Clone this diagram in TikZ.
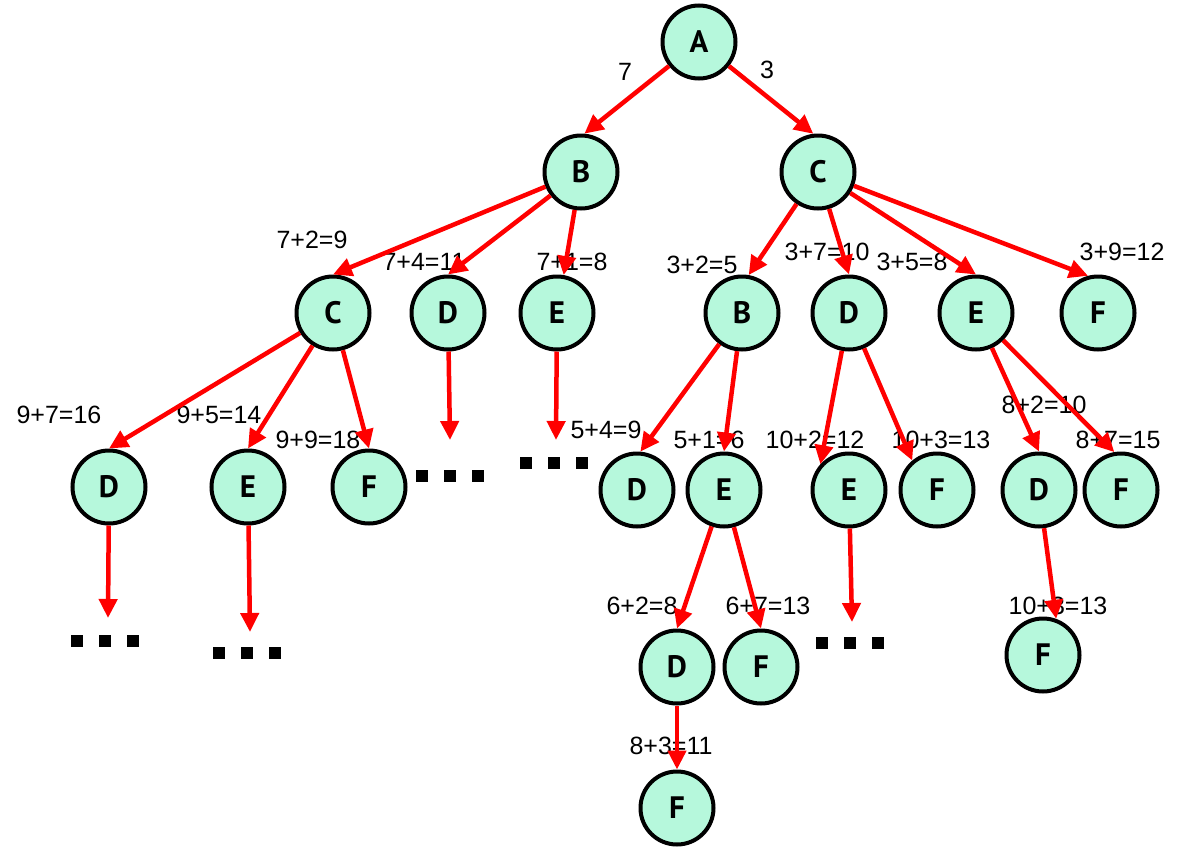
\documentclass[tikz,border=0pt]{standalone}
\usepackage{fontspec}
\setmainfont{Liberation Sans}
\newfontfamily\nodefont{PT Sans}
\usetikzlibrary{arrows.meta}
\definecolor{mint}{RGB}{182,248,220}
\definecolor{edgered}{RGB}{255,0,0}
\begin{document}
\begin{tikzpicture}[x=1pt,y=-1pt,
 st/.style={circle, draw=black, line width=4pt, fill=mint, minimum size=73pt, inner sep=0pt, font=\nodefont\bfseries\fontsize{31}{32}\selectfont},
 ed/.style={draw=edgered, line width=4.5pt, -{Triangle[length=19pt,width=18pt]}},
 lb/.style={font=\fontsize{25}{30}\selectfont, inner sep=0pt},
 sq/.style={fill=black}]
\useasboundingbox (0,0) rectangle (1195,849);
% nodes
\node[st] (A) at (699,42) {A};
\node[st] (B) at (581,172) {B};
\node[st] (C) at (818,172) {C};
\node[st] (C2) at (333,313) {C};
\node[st] (D2) at (448,313) {D};
\node[st] (E2) at (557,313) {E};
\node[st] (B3) at (742,313) {B};
\node[st] (D3) at (849,313) {D};
\node[st] (E3) at (976,313) {E};
\node[st] (F3) at (1098,313) {F};
\node[st] (D4a) at (109,487) {D};
\node[st] (E4a) at (248,487) {E};
\node[st] (F4a) at (369,487) {F};
\node[st] (D4b) at (637,490) {D};
\node[st] (E4b) at (724,490) {E};
\node[st] (E4c) at (849,490) {E};
\node[st] (F4c) at (937,490) {F};
\node[st] (D4d) at (1039,490) {D};
\node[st] (F4d) at (1121,490) {F};
\node[st] (D5) at (677,667) {D};
\node[st] (F5) at (761,667) {F};
\node[st] (F5d) at (1043,655) {F};
\node[st] (F6) at (677,808) {F};
% free ends
\coordinate (xD2) at (450,440);
\coordinate (xE2) at (556,440);
\coordinate (xD4a) at (108,618);
\coordinate (xE4a) at (250,632);
\coordinate (xE4c) at (852,622);
% labels
\node[lb] at (625,72) {7};
\node[lb] at (767,70) {3};
\node[lb] at (312,240) {7+2=9};
\node[lb] at (424,262) {7+4=11};
\node[lb] at (572,262) {7+1=8};
\node[lb] at (702,265) {3+2=5};
\node[lb] at (827,252) {3+7=10};
\node[lb] at (912,262) {3+5=8};
\node[lb] at (1122,252) {3+9=12};
\node[lb] at (59,415) {9+7=16};
\node[lb] at (219,415) {9+5=14};
\node[lb] at (318,440) {9+9=18};
\node[lb] at (606,430) {5+4=9};
\node[lb] at (709,440) {5+1=6};
\node[lb] at (815,440) {10+2=12};
\node[lb] at (941,440) {10+3=13};
\node[lb] at (1044,405) {8+2=10};
\node[lb] at (1118,440) {8+7=15};
\node[lb] at (642,606) {6+2=8};
\node[lb] at (768,606) {6+7=13};
\node[lb] at (1058,606) {10+3=13};
\node[lb] at (671,746) {8+3=11};
% edges
\draw[ed] (A) -- (B.85);
\draw[ed] (A) -- (C.97);
\draw[ed] (B) -- (C2.north);
\draw[ed] (B) -- (D2.north);
\draw[ed] (B) -- (E2.80);
\draw[ed] (C) -- (B3.80);
\draw[ed] (C) -- (D3.north);
\draw[ed] (C) -- (E3.north);
\draw[ed] (C) -- (F3.105);
\draw[ed] (C2) -- (D4a.north);
\draw[ed] (C2) -- (E4a.north);
\draw[ed] (C2) -- (F4a.north);
\draw[ed] (B3) -- (D4b.85);
\draw[ed] (B3) -- (E4b.north);
\draw[ed] (D3) -- (E4c.138);
\draw[ed] (D3) -- (F4c.130);
\draw[ed] (E3) -- (D4d.north);
\draw[ed] (E3) -- (F4d.100);
\draw[ed] (E4b) -- (D5.north);
\draw[ed] (E4b) -- (F5.north);
\draw[ed] (D4d) -- (F5d.70);
\draw[ed] (D5) -- (F6);
\draw[ed] (D2) -- (xD2);
\draw[ed] (E2) -- (xE2);
\draw[ed] (D4a) -- (xD4a);
\draw[ed] (E4a) -- (xE4a);
\draw[ed] (E4c) -- (xE4c);
% ellipsis squares
\foreach \x/\y in {71/635, 213/647, 416/470, 520/457, 816/637}{
  \foreach \k in {0,1,2}{
    \fill[sq] (\x+28*\k,\y) rectangle ++(12,12);
  }
}
\end{tikzpicture}
\end{document}
